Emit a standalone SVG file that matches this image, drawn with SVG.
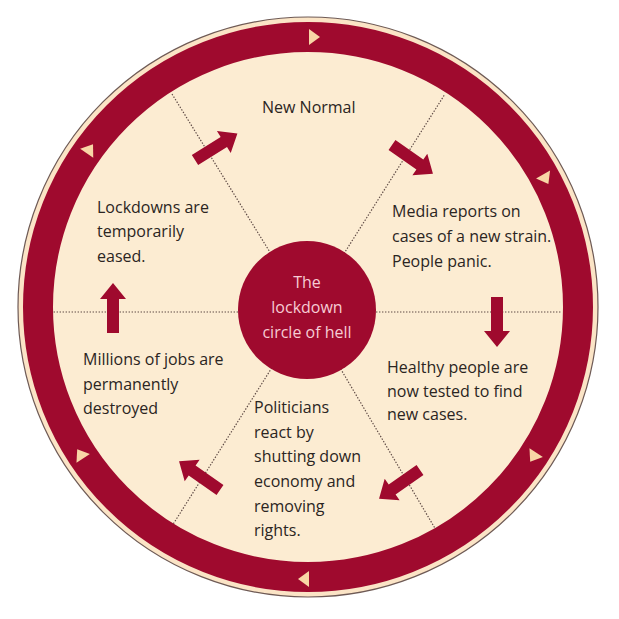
<svg xmlns="http://www.w3.org/2000/svg" width="619" height="619" viewBox="0 0 619 619">
<defs>
<style>
.lbl{font-family:"Open Sans","Noto Sans","Liberation Sans",sans-serif;font-size:16px;fill:#2b2522}
.ctr{font-family:"Open Sans","Noto Sans","Liberation Sans",sans-serif;font-size:16px;fill:#f6ccd4;text-anchor:middle}
.dot{stroke:#5e4a45;stroke-width:1.2;stroke-dasharray:1.4 1.6;fill:none}
.arr{fill:#9f0a2e}
.tri{fill:#f8d6a6}
</style>
<path id="blk" d="M0,-6 H34 V-13 L50,0 L34,13 V6 H0 Z"/>
<polygon id="tr" points="-4,-8 -4,8 7,0"/>
</defs>
<rect width="619" height="619" fill="#ffffff"/>
<g id="ring">
<circle cx="308" cy="307" r="290" fill="#fbe4c6" stroke="#6e5a55" stroke-width="1.2"/>
<circle cx="308" cy="307" r="285" fill="#fcecd2"/>
</g>
<g id="connectors">
<g id="spokes">
<line class="dot" x1="307" y1="312" x2="53" y2="312"/>
<line class="dot" x1="307" y1="312" x2="562" y2="312"/>
<line class="dot" x1="307" y1="312" x2="172" y2="94"/>
<line class="dot" x1="307" y1="312" x2="445" y2="94"/>
<line class="dot" x1="307" y1="312" x2="172" y2="526"/>
<line class="dot" x1="307" y1="312" x2="436" y2="530"/>
</g>
<g id="arrows">
<use href="#blk" class="arr" transform="translate(195,160) rotate(-32)"/>
<use href="#blk" class="arr" transform="translate(392,145) rotate(35)"/>
<use href="#blk" class="arr" transform="translate(497,297) rotate(90)"/>
<use href="#blk" class="arr" transform="translate(420,470) rotate(145)"/>
<use href="#blk" class="arr" transform="translate(220,490) rotate(215)"/>
<use href="#blk" class="arr" transform="translate(113,333) rotate(-90)"/>
</g>
</g>
<g id="ring-band">
<circle cx="308" cy="307" r="270" fill="none" stroke="#9f0a2e" stroke-width="30"/>
<use href="#tr" class="tri" transform="translate(313,37) rotate(0)"/>
<use href="#tr" class="tri" transform="translate(545,178) rotate(61)"/>
<use href="#tr" class="tri" transform="translate(534,456) rotate(123)"/>
<use href="#tr" class="tri" transform="translate(305,579) rotate(180)"/>
<use href="#tr" class="tri" transform="translate(81,455) rotate(237)"/>
<use href="#tr" class="tri" transform="translate(89,150) rotate(305)"/>
</g>
<g id="center">
<circle cx="307" cy="310" r="69" fill="#9f0a2e"/>
<text class="ctr" x="307" y="288">The</text>
<text class="ctr" x="307" y="313">lockdown</text>
<text class="ctr" x="307" y="338">circle of hell</text>
</g>
<g id="new-normal">
<text class="lbl" x="262" y="113">New Normal</text>
</g>
<g id="media-reports">
<text class="lbl" x="392" y="217">Media reports on</text>
<text class="lbl" x="392" y="242">cases of a new strain.</text>
<text class="lbl" x="392" y="267">People panic.</text>
</g>
<g id="healthy-tested">
<text class="lbl" x="387" y="373">Healthy people are</text>
<text class="lbl" x="387" y="397">now tested to find</text>
<text class="lbl" x="387" y="420">new cases.</text>
</g>
<g id="politicians">
<text class="lbl" x="254" y="413">Politicians</text>
<text class="lbl" x="254" y="438">react by</text>
<text class="lbl" x="254" y="462">shutting down</text>
<text class="lbl" x="254" y="487">economy and</text>
<text class="lbl" x="254" y="512">removing</text>
<text class="lbl" x="254" y="536">rights.</text>
</g>
<g id="jobs-destroyed">
<text class="lbl" x="83" y="365">Millions of jobs are</text>
<text class="lbl" x="83" y="390">permanently</text>
<text class="lbl" x="83" y="414">destroyed</text>
</g>
<g id="lockdowns-eased">
<text class="lbl" x="97" y="213">Lockdowns are</text>
<text class="lbl" x="97" y="237">temporarily</text>
<text class="lbl" x="97" y="262">eased.</text>
</g>
</svg>
